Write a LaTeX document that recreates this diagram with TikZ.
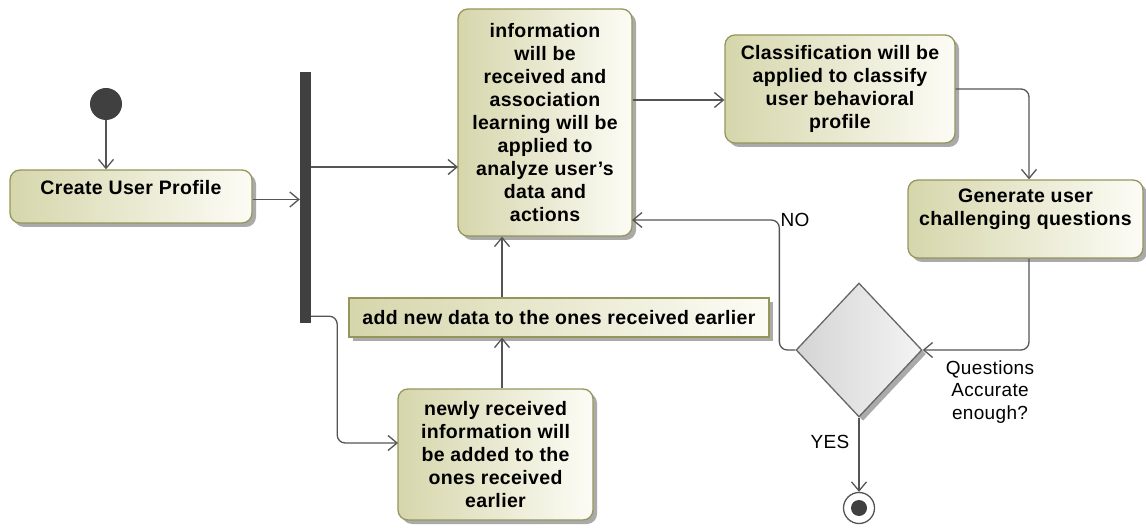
\documentclass[tikz,border=0pt]{standalone}
\usepackage{fontspec}
\setmainfont{Liberation Sans}[LetterSpace=1.8, Ligatures=ResetAll]
\usetikzlibrary{arrows.meta,shapes.geometric,shadows,calc}
\definecolor{boxL}{RGB}{214,214,172}
\definecolor{boxR}{RGB}{252,252,246}
\definecolor{boxB}{RGB}{150,150,92}
\definecolor{lineC}{RGB}{85,85,85}
\definecolor{darkC}{RGB}{64,64,64}
\definecolor{shadowC}{RGB}{170,170,170}
\definecolor{decL}{RGB}{212,212,212}
\definecolor{decR}{RGB}{244,244,244}
\begin{document}
\begin{tikzpicture}[x=1pt,y=-1pt,
  actbox/.style={draw=boxB, line width=1.3pt, rounded corners=10pt,
    left color=boxL, right color=boxR,
    drop shadow={shadow xshift=4pt,shadow yshift=-4pt,fill=shadowC,opacity=1},
    inner sep=0pt, align=center, font=\bfseries\fontsize{19.5}{23}\selectfont},
  boxtext/.style={inner sep=0pt, align=center, font=\bfseries\fontsize{19.5}{23}\selectfont},
  lab/.style={inner sep=0pt, align=center, font=\fontsize{19}{22.5}\selectfont},
  arr/.style={draw=lineC, line width=1.3pt, rounded corners=8pt,
    -{Straight Barb[length=9pt,width=15pt,line width=1.3pt]}},
]
\useasboundingbox (0,0) rectangle (1146,529);

% initial node
\node[circle, fill=darkC, minimum size=32pt, inner sep=0pt] (init) at (106,104) {};

% Create User Profile
\node[actbox, minimum width=242pt, minimum height=53pt] (cup) at (131,196.5) {};
\node[boxtext] (cupt) at (131,188) {Create User Profile};

% fork bar
\node[rectangle, fill=darkC, minimum width=11pt, minimum height=251pt, inner sep=0pt] (bar) at (305.5,197.5) {};

% information box
\node[actbox, minimum width=174pt, minimum height=227pt] (info) at (545,122.5)
  {information\\will be\\received and\\association\\learning will be\\applied to\\analyze user's\\data and\\actions};

% classification
\node[actbox, minimum width=230pt, minimum height=108pt] (class) at (840,89)
  {Classification will be\\applied to classify\\user behavioral\\profile};

% generate
\node[actbox, minimum width=235pt, minimum height=78pt] (gen) at (1025.5,219) {};
\node[boxtext] (gent) at (1025.5,209) {Generate user\\challenging questions};

% add new data
\node[actbox, rounded corners=0pt, minimum width=420pt, minimum height=39pt] (add) at (559,317.5)
  {add new data to the ones received earlier};

% newly received
\node[actbox, minimum width=195pt, minimum height=131pt] (newly) at (495.5,454.5)
  {newly received\\information will\\be added to the\\ones received\\earlier};

% decision
\node[diamond, draw=lineC!90, line width=1.3pt, left color=decL, right color=decR,
  drop shadow={shadow xshift=4pt,shadow yshift=-4pt,fill=shadowC,opacity=1},
  minimum width=126pt, minimum height=134pt, inner sep=0pt] (dec) at (859,350) {};

% final node
\node[circle, draw=lineC, line width=1.3pt, fill=white, minimum size=31pt, inner sep=0pt] (final) at (859,508) {};
\node[circle, fill=darkC, minimum size=16pt, inner sep=0pt] (finalin) at (final.center) {};

% helper coordinates
\coordinate (addx) at (502,0);
\coordinate (infoin) at (458,167);
\coordinate (newin) at (398,443);
\coordinate (noin) at (632,220);

% connectors
\draw[arr] (init) -- (init |- cup.north);
\draw[arr] ([yshift=-3pt]cup.east) -- ([yshift=-3pt]cup.east -| bar.west);
\draw[arr] (infoin -| bar.east) -- (infoin);
\draw[arr] ([yshift=7pt]bar.south east) -- ++(26,0) |- (newin);
\draw[arr] ([yshift=22.5pt]info.east) -- ([yshift=22.5pt]info.east -| class.west);
\draw[arr] (class.east) -| ([xshift=3.5pt]gen.north);
\draw[arr] ([xshift=3.5pt]gen.south) |- (dec.east);
\draw[arr] (dec.west) -- ++(-16,0) |- (noin);
\draw[arr] (dec.south) -- (final.north);
\draw[arr] (addx |- add.north) -- (addx |- info.south);
\draw[arr] (addx |- newly.north) -- (addx |- add.south);

% labels
\node[lab] (nolab) at (795,220) {NO};
\node[lab] (yeslab) at (830,442) {YES};
\node[lab] (qlab) at (990,392) {Questions\\Accurate\\enough?};
\end{tikzpicture}
\end{document}
